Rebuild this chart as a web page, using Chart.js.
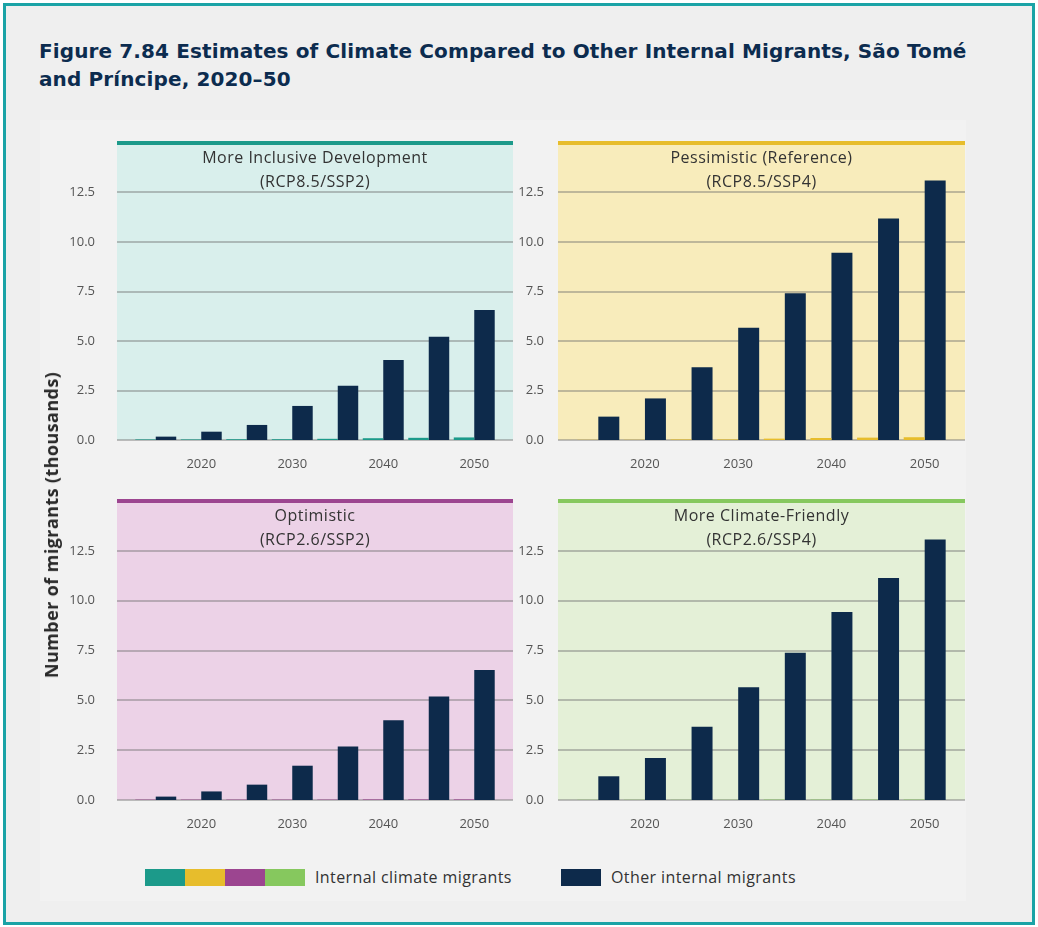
<!DOCTYPE html>
<html>
<head>
<meta charset="utf-8">
<script src="https://cdn.jsdelivr.net/npm/chart.js@4"></script>
<style>
  body { margin: 0; background: #ffffff; }
  #frame {
    position: absolute; left: 3px; top: 3px; width: 1032px; height: 922px;
    box-sizing: border-box; border: 3px solid #1aa3a6; background: #efefef;
  }
  #inner { position: absolute; left: 40px; top: 120px; width: 926px; height: 781px; background: #f2f2f2; }
  #title {
    position: absolute; left: 39px; top: 37px; width: 990px;
    font-family: "DejaVu Sans", sans-serif; font-weight: 700; font-size: 20px;
    letter-spacing: 0.12px; line-height: 28px; color: #0c2c4f;
  }
  .panel { position: absolute; }
  #ytitle {
    position: absolute; left: 51px; top: 525px; transform: translate(-50%, -50%) rotate(-90deg);
    white-space: nowrap; font-family: "Open Sans", sans-serif; font-weight: 700; font-size: 18px;
    letter-spacing: 0.4px; color: #2a2a2a;
  }
  #legend { position: absolute; left: 0; top: 866px; font-family: "Open Sans", sans-serif; font-size: 16px; letter-spacing: 0.4px; color: #333; }
  .sw { position: absolute; top: 3px; height: 17px; }
  .lt { position: absolute; top: 0; white-space: nowrap; line-height: 22px; }
</style>
</head>
<body>
<div id="frame"></div>
<div id="inner"></div>
<div id="title">Figure 7.84 Estimates of Climate Compared to Other Internal Migrants, São Tomé<br>and Príncipe, 2020–50</div>

<div class="panel" style="left:60px;top:128px;width:460px;height:350px;"><canvas id="c1"></canvas></div>
<div class="panel" style="left:505px;top:128px;width:467px;height:350px;"><canvas id="c2"></canvas></div>
<div class="panel" style="left:60px;top:486px;width:460px;height:352px;"><canvas id="c3"></canvas></div>
<div class="panel" style="left:505px;top:486px;width:467px;height:352px;"><canvas id="c4"></canvas></div>

<div id="ytitle">Number of migrants (thousands)</div>

<div id="legend">
  <div class="sw" style="left:145px;width:40px;background:#1c9a8a;"></div>
  <div class="sw" style="left:185px;width:40px;background:#e7bd2c;"></div>
  <div class="sw" style="left:225px;width:40px;background:#9c4590;"></div>
  <div class="sw" style="left:265px;width:40px;background:#86c85e;"></div>
  <div class="lt" style="left:315px;">Internal climate migrants</div>
  <div class="sw" style="left:561px;width:40px;background:#0d2a4b;"></div>
  <div class="lt" style="left:611px;">Other internal migrants</div>
</div>

<script>
// years on the x axis (only every other one gets a label)
const years = ["2015", "2020", "2025", "2030", "2035", "2040", "2045", "2050"];
const yTicks = [0, 2.5, 5, 7.5, 10, 12.5];

// thousands of migrants
const inclusiveClimate = [0.03, 0.03, 0.04, 0.04, 0.06, 0.09, 0.11, 0.13];
const inclusiveOther = [0.17, 0.42, 0.76, 1.72, 2.74, 4.04, 5.22, 6.57];

const pessimisticClimate = [0.01, 0.01, 0.03, 0.03, 0.07, 0.1, 0.12, 0.14];
const pessimisticOther = [1.18, 2.1, 3.67, 5.67, 7.41, 9.46, 11.19, 13.1];

const optimisticClimate = [0.02, 0.02, 0.02, 0.02, 0.02, 0.03, 0.03, 0.03];
const optimisticOther = [0.17, 0.43, 0.77, 1.72, 2.69, 4.0, 5.19, 6.52];

const friendlyClimate = [0.01, 0.01, 0.01, 0.01, 0.02, 0.02, 0.02, 0.02];
const friendlyOther = [1.19, 2.11, 3.68, 5.66, 7.39, 9.43, 11.14, 13.07];

const navy = "#0d2a4b";
const font = "'Open Sans', sans-serif";

// fills the panel, draws grid lines, the coloured top rule and the scenario name.
// the panel runs a little wider than the category area (opts.inset on each side)
const panelPlugin = {
  id: "panel",
  beforeDatasetsDraw(chart, args, opts) {
    const { ctx, chartArea: { top, bottom, left, right }, scales: { y } } = chart;
    const l = left - opts.inset;
    const r = right + opts.inset;
    ctx.save();
    ctx.fillStyle = opts.bg;
    ctx.fillRect(l, top, r - l, bottom - top);
    ctx.strokeStyle = "rgba(110,110,110,0.42)";
    ctx.lineWidth = 2;
    yTicks.forEach((v) => {
      const py = Math.round(y.getPixelForValue(v));
      ctx.beginPath();
      ctx.moveTo(l, py);
      ctx.lineTo(r, py);
      ctx.stroke();
    });
    ctx.restore();
  },
  afterDraw(chart, args, opts) {
    const { ctx, chartArea: { top, left, right } } = chart;
    const l = left - opts.inset;
    const r = right + opts.inset;
    ctx.save();
    ctx.fillStyle = opts.line;
    ctx.fillRect(l, top - 2, r - l, 4);
    ctx.fillStyle = "#333";
    ctx.font = "16px " + font;
    ctx.letterSpacing = "0.5px";
    ctx.textAlign = "center";
    ctx.textBaseline = "middle";
    const cx = (l + r) / 2;
    ctx.fillText(opts.name[0], cx, top + 15);
    ctx.fillText(opts.name[1], cx, top + 39);
    ctx.restore();
  },
};

function makePanel(id, name, climate, other, color, bg, axisWidth, inset, labelGap) {
  new Chart(document.getElementById(id), {
    type: "bar",
    data: {
      labels: years,
      datasets: [
        { label: "Internal climate migrants", data: climate, backgroundColor: color },
        { label: "Other internal migrants", data: other, backgroundColor: navy },
      ],
    },
    options: {
      responsive: true,
      maintainAspectRatio: false,
      animation: false,
      categoryPercentage: 0.9,
      barPercentage: 1.0,
      layout: { padding: { top: 15, right: 7 + inset, left: 0, bottom: 0 } },
      scales: {
        x: {
          grid: { display: false },
          border: { display: false },
          afterFit(s) {
            s.height = 38;
            s.paddingLeft = 0;
            s.paddingRight = 0;
          },
          ticks: {
            autoSkip: false,
            maxRotation: 0,
            padding: 8,
            color: "#555",
            font: { family: font, size: 13 },
            callback: (v, i) => (i % 2 === 1 ? years[i] : ""),
          },
        },
        y: {
          min: 0,
          max: 15,
          afterFit(s) {
            s.width = axisWidth + inset;
            s.paddingTop = 0;
            s.paddingBottom = 0;
          },
          afterBuildTicks(s) { s.ticks = yTicks.map((v) => ({ value: v })); },
          border: { display: false },
          grid: { display: false },
          ticks: {
            padding: labelGap + inset,
            color: "#555",
            font: { family: font, size: 13 },
            callback: (v) => v.toFixed(1),
          },
        },
      },
      plugins: {
        legend: { display: false },
        tooltip: { enabled: false },
        panel: { name: name, bg: bg, line: color, inset: inset },
      },
    },
    plugins: [panelPlugin],
  });
}

makePanel("c1", ["More Inclusive Development", "(RCP8.5/SSP2)"], inclusiveClimate, inclusiveOther, "#1c9a8a", "#d9efec", 57, 16, 14);
makePanel("c2", ["Pessimistic (Reference)", "(RCP8.5/SSP4)"], pessimisticClimate, pessimisticOther, "#e7bd2c", "#f8ecbb", 53, 17, 6);
makePanel("c3", ["Optimistic", "(RCP2.6/SSP2)"], optimisticClimate, optimisticOther, "#9c4590", "#ecd2e7", 57, 16, 14);
makePanel("c4", ["More Climate-Friendly", "(RCP2.6/SSP4)"], friendlyClimate, friendlyOther, "#86c85e", "#e4f0d7", 53, 17, 6);
</script>
</body>
</html>
